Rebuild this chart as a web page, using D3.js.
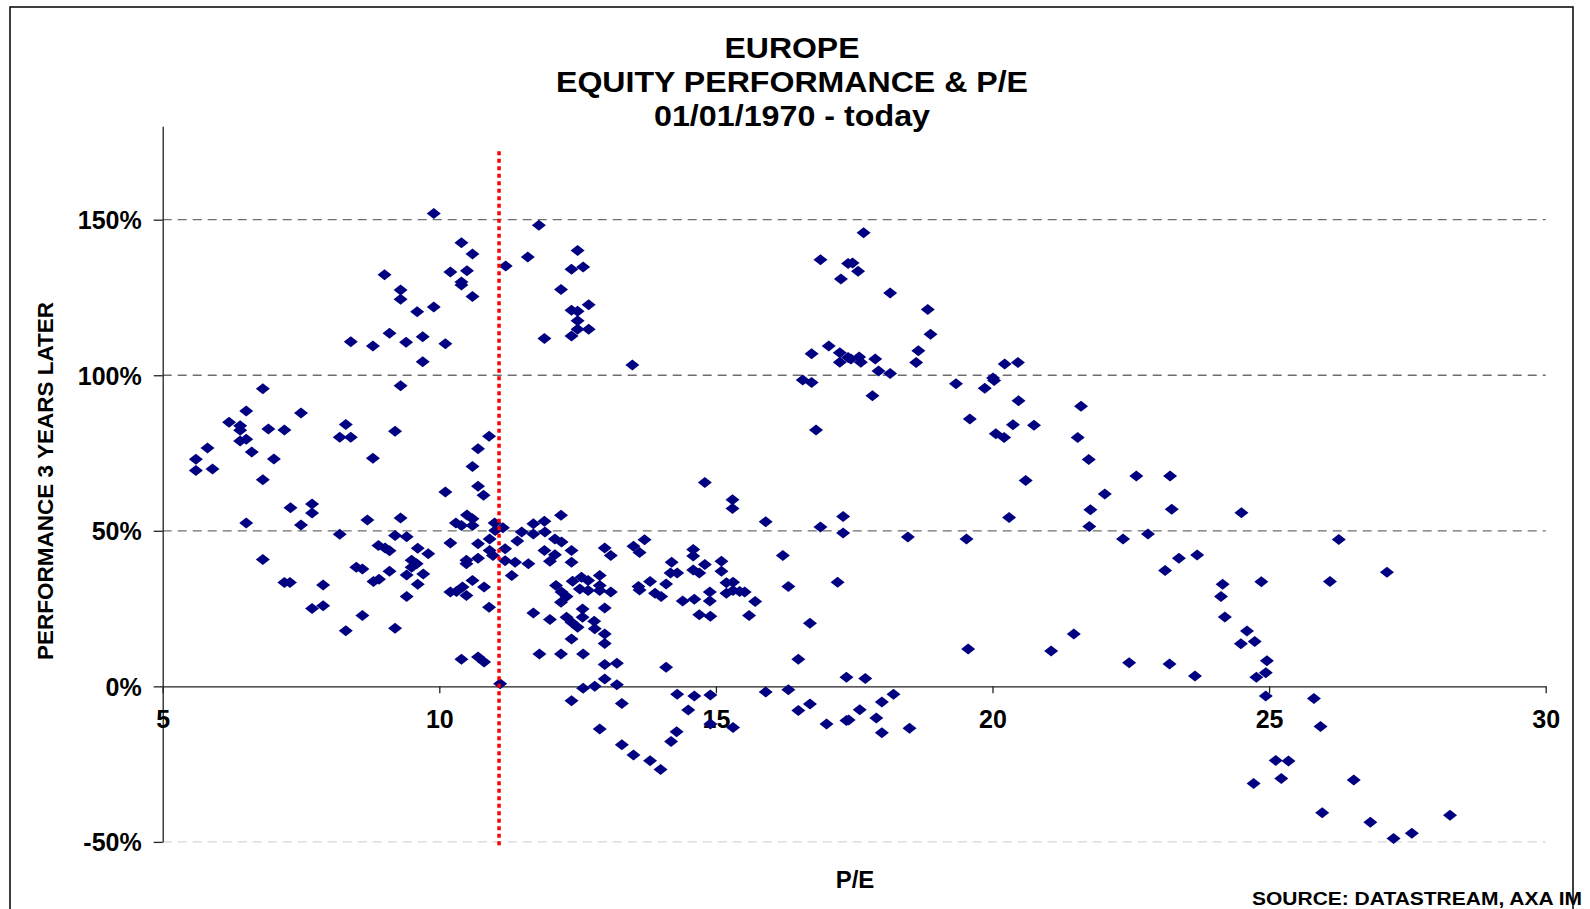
<!DOCTYPE html>
<html>
<head>
<meta charset="utf-8">
<script src="https://cdn.jsdelivr.net/npm/d3@7"></script>
<style>
    html, body { margin: 0; padding: 0; background: #fff; }
    svg { display: block; font-family: Arial, "Liberation Sans", sans-serif; }
    .tick-label { font-size: 25px; font-weight: bold; fill: #000; }
</style>
</head>
<body>
<svg id="chart" width="1590" height="909"></svg>
<script>
'use strict';

// P/E at the start of each month
var peValues = [
    9.90, 10.40, 10.60, 11.20, 10.20, 10.50, 10.40, 10.40, 10.60, 9.01, 9.30, 9.30, 9.60, 9.90, 9.10, 9.40,
    9.70, 10.11, 8.40, 8.80, 9.70, 9.30, 6.81, 6.51, 7.50, 6.20, 6.40, 6.40, 6.91, 7.20, 8.31, 8.20,
    8.40, 9.20, 6.40, 6.51, 6.61, 5.81, 5.60, 5.60, 5.90, 7.01, 8.80, 6.81, 10.90, 10.70, 10.60, 10.70,
    10.80, 10.11, 7.31, 7.70, 7.70, 6.51, 7.50, 8.70, 9.30, 10.50, 10.60, 10.30, 10.40, 10.60, 11.00,
    11.80, 11.60, 12.50, 12.39, 12.60, 12.20, 12.39, 12.50, 12.50, 12.50, 12.70, 12.70, 12.39, 11.90, 13.49, 16.89,
    17.39, 17.26, 16.73, 17.04, 17.24, 17.24, 17.39, 16.57, 16.73, 16.81, 14.80, 15.30, 15.30, 15.90, 16.89, 17.30,
    12.20, 11.90, 11.70,
    17.67, 17.47, 17.57, 18.15, 18.83, 18.88, 17.44, 17.59, 17.62, 17.88, 17.94, 18.15, 17.83, 18.66, 18.62, 19.34,
    19.86, 20.01, 20.03, 20.22, 20.46, 20.47, 19.59, 20.06, 20.21, 20.37, 20.75, 21.60, 21.54, 21.74, 20.60, 22.03,
    22.60, 23.21, 20.30, 21.77, 21.75, 23.24, 24.50,
    8.20, 9.20, 9.41, 8.90, 9.02, 9.10, 9.61, 9.80, 6.81, 8.50, 8.61, 9.10, 9.50, 9.59, 9.50, 9.41,
    9.71, 8.81, 8.91, 9.61, 7.20, 7.30, 7.90, 7.70, 7.90, 8.61, 8.31, 9.20, 9.41, 10.20, 10.70, 10.49,
    10.49, 10.70, 10.91, 10.97, 10.91, 11.01, 10.60, 10.81, 10.20, 10.31, 10.42, 10.49, 10.90, 10.40, 10.70, 10.81,
    11.10,
    11.15, 11.49, 11.70, 11.91, 11.41, 12.09, 12.21, 11.90, 12.09, 12.00, 12.39, 12.39, 11.19, 11.19, 11.37, 11.61,
    11.31, 12.99, 13.10, 13.51, 13.62, 13.71, 14.20, 14.59, 14.59, 14.80, 15.10, 15.10, 14.59, 14.70, 14.18, 14.30,
    16.21, 17.30, 17.20, 16.31, 16.70, 16.49, 17.36, 12.57, 12.69, 12.90, 12.41, 12.11, 12.21, 12.30, 12.54, 12.69,
    12.90, 12.90, 13.10, 12.20, 12.59, 12.59, 12.99, 11.70, 12.00, 12.30, 12.39, 12.50, 12.80, 12.81, 12.99, 12.99,
    12.39, 11.81, 12.20, 12.60, 12.99, 13.21, 12.99, 12.60, 12.81, 13.21, 12.39, 13.30, 13.60, 13.62, 13.81, 14.10,
    13.90, 14.01, 14.40, 14.61, 14.89, 14.89, 15.19, 15.31, 15.19, 15.31, 15.43, 15.52, 15.71, 14.70, 14.90, 15.60,
    14.10, 14.30, 14.61, 14.90, 14.50, 12.90, 14.29, 14.19, 13.30, 13.51, 13.81, 14.00, 14.90, 15.31, 15.90, 16.31,
    16.49, 16.70, 17.00, 17.36,
    18.47, 19.53, 22.36, 22.81, 23.12, 23.37, 19.56, 21.06, 21.47, 22.47, 23.20, 17.70, 18.21, 18.00, 17.60, 17.40,
    17.90, 18.00, 18.50,
    26.26, 23.70, 27.13, 24.16, 24.86, 26.10, 24.13, 24.20, 24.60, 24.49, 24.74, 24.96, 24.94, 24.77, 23.66, 24.94,
    25.81, 25.93, 25.12, 25.35, 25.22, 24.72, 26.53, 25.96, 26.83, 27.25, 27.58, 28.27
];

// performance over the following 3 years, in %
var perfValues = [
    152.0, 142.6, 139.0, 135.1, 133.2, 133.6, 130.0, 129.0, 125.3, 132.3, 127.4, 124.4, 120.4, 121.9, 113.5, 110.6,
    112.4, 110.1, 110.8, 109.4, 104.3, 96.6, 95.7, 88.5, 87.9, 84.9, 83.8, 82.3, 82.7, 82.4, 84.2, 80.1,
    80.1, 82.0, 78.9, 79.4, 75.3, 76.6, 73.0, 69.4, 69.9, 73.1, 73.3, 66.4, 80.4, 76.4, 70.7, 64.3,
    61.4, 62.5, 57.4, 58.6, 55.7, 52.5, 51.9, 53.5, 54.1, 55.1, 53.9, 52.5, 51.7, 51.7, 52.5,
    148.2, 138.0, 140.1, 134.1, 134.8, 127.6, 120.9, 120.6, 117.5, 114.8, 122.7, 114.8, 112.6, 111.8, 103.3, 137.1,
    135.9, 130.9, 106.9, 109.4, 107.2, 104.2, 105.7, 98.5, 97.7, 82.4, 65.5, 60.0, 57.2, 52.9, 51.2, 54.6,
    55.0, 53.1, 52.3,
    145.8, 136.1, 133.4, 126.4, 121.1, 113.2, 105.2, 105.9, 104.2, 105.2, 101.4, 100.6, 93.4, 107.9, 104.1, 97.3,
    95.8, 99.1, 98.3, 103.6, 104.1, 91.8, 85.9, 81.2, 80.0, 84.1, 83.9, 90.0, 80.0, 72.9, 66.2, 61.8,
    67.6, 67.6, 54.3, 56.8, 51.4, 56.9, 55.8,
    48.9, 48.5, 48.1, 45.3, 44.5, 43.6, 44.4, 42.6, 40.8, 38.3, 37.7, 37.0, 40.5, 39.4, 38.3, 35.8,
    36.1, 33.7, 34.4, 32.8, 33.4, 33.4, 32.6, 25.0, 25.9, 22.8, 17.9, 18.7, 28.9, 46.1, 45.8, 40.5,
    39.4, 41.2, 43.7, 42.1, 47.4, 50.1, 34.0, 31.9, 30.3, 30.5, 31.9, 29.2, 25.4, 8.7, 9.4, 7.8,
    0.8,
    51.0, 49.6, 49.0, 49.6, 46.7, 47.4, 46.4, 43.7, 42.3, 40.2, 43.7, 39.9, 44.2, 40.4, 39.9, 39.4,
    35.6, 44.5, 42.1, 45.0, 43.0, 47.1, 39.9, 44.0, 41.9, 39.2, 40.2, 37.0, 37.4, 36.4, 36.4, 36.4,
    42.1, 49.3, 33.5, 32.1, 20.3, 8.7, 2.9, 35.1, 34.0, 35.6, 33.8, 32.4, 30.3, 28.9, 31.3, 30.8,
    32.4, 30.8, 30.3, 27.0, 24.9, 22.2, 25.2, 23.6, 21.5, 22.2, 20.6, 19.0, 20.9, 18.5, 16.8, 13.8,
    15.2, 10.4, 10.4, 10.4, 7.0, 7.4, 2.4, -0.6, 0.0, 0.5, -4.6, -5.5, 32.1, 31.0, 33.7, 32.9,
    29.9, 28.9, 27.4, 28.0, 30.3, 27.4, 33.3, 33.5, 29.9, 30.8, 30.5, 30.3, 27.3, 23.0, 22.5, 22.8,
    6.1, -2.5, -3.1, -2.8, -7.6, -13.7, -14.6, -17.7, -18.8, -22.1, -23.9, -26.7, -12.1, -13.2, -1.8, -1.1,
    -7.8, -5.7, -12.1, -11.0,
    48.0, 47.4, 47.4, 49.0, 37.2, 41.2, 12.0, 11.4, 16.8, 7.6, 7.2, 2.5, -2.5, -5.0, -7.5, -10.8,
    -10.2, -14.9, -13.5,
    47.2, 42.2, 36.7, 32.8, 33.6, 33.7, 28.9, 22.3, 17.8, 13.7, 14.4, 8.2, 4.4, 2.9, 3.3, -3.1,
    -3.9, -12.9, -23.8, -24.0, -29.6, -31.2, -30.1, -40.6, -43.7, -48.9, -47.2, -41.4
];

var xTicks = [5, 10, 15, 20, 25, 30];
var yTicks = [-50, 0, 50, 100, 150];
var gridValues = [50, 100, 150];
var xDomain = [5, 30];
var yDomain = [-50, 180];

// current P/E marker (red dotted line) and its vertical extent
var currentPE = [11.08];
var currentSpan = [-52, 172];

var titleLines = ['EUROPE', 'EQUITY PERFORMANCE & P/E', '01/01/1970 - today'];

var svg = d3.select('#chart');

var points = peValues.map(function(pe, i) {
    return { pe: pe, perf: perfValues[i] };
});

var x = d3.scaleLinear().domain(xDomain).range([162.7, 1545.7]);

// -50% and 150% gridlines give the pixel calibration, axis runs on to 180%
var yRef = d3.scaleLinear().domain([-50, 150]).range([841.9, 219.7]);
var y = d3.scaleLinear().domain(yDomain).range([yRef(yDomain[0]), yRef(yDomain[1])]);

// outer frame
svg.append('rect')
    .attr('x', 10)
    .attr('y', 7)
    .attr('width', 1563)
    .attr('height', 1000)
    .attr('fill', 'none')
    .attr('stroke', '#000')
    .attr('stroke-width', 1.5);

// titles
var titleWidths = [135, 472, 276];
var titleBaselines = [58, 92, 125.5];
svg.append('g')
    .selectAll('text')
    .data(titleLines)
    .enter()
    .append('text')
    .attr('x', 792)
    .attr('y', function(d, i) { return titleBaselines[i]; })
    .attr('text-anchor', 'middle')
    .attr('textLength', function(d, i) { return titleWidths[i]; })
    .attr('lengthAdjust', 'spacingAndGlyphs')
    .attr('font-size', 29)
    .attr('font-weight', 'bold')
    .text(function(d) { return d; });

// gridlines
svg.append('g')
    .selectAll('line')
    .data(gridValues)
    .enter()
    .append('line')
    .attr('x1', x(xDomain[0]))
    .attr('x2', x(xDomain[1]))
    .attr('y1', function(d) { return y(d); })
    .attr('y2', function(d) { return y(d); })
    .attr('stroke', '#6e6e6e')
    .attr('stroke-width', 1.3)
    .attr('stroke-dasharray', '9,6');

svg.append('line')
    .attr('x1', x(xDomain[0]))
    .attr('x2', x(xDomain[1]))
    .attr('y1', y(-50))
    .attr('y2', y(-50))
    .attr('stroke', '#d6d6d6')
    .attr('stroke-width', 1.2)
    .attr('stroke-dasharray', '9,6');

// y axis
var yAxis = svg.append('g')
    .attr('transform', 'translate(' + x(xDomain[0]) + ',0)')
    .call(d3.axisLeft(y)
        .tickValues(yTicks)
        .tickSize(9)
        .tickSizeOuter(0)
        .tickPadding(12)
        .tickFormat(function(d) { return d + '%'; }));

yAxis.selectAll('path, line').attr('stroke', '#222').attr('stroke-width', 1.3);
yAxis.selectAll('text')
    .attr('class', 'tick-label')
    .attr('font-family', null)
    .attr('font-size', null)
    .attr('dy', '0.35em');

// x axis sits on 0%
var xAxis = svg.append('g')
    .attr('transform', 'translate(0,' + y(0) + ')')
    .call(d3.axisBottom(x)
        .tickValues(xTicks)
        .tickSize(7)
        .tickSizeOuter(0)
        .tickPadding(17));

xAxis.selectAll('path, line').attr('stroke', '#222').attr('stroke-width', 1.3);
xAxis.selectAll('text')
    .attr('class', 'tick-label')
    .attr('font-family', null)
    .attr('font-size', null);

// points
var diamond = 'M0,-5.5L7,0L0,5.5L-7,0Z';
svg.append('g')
    .selectAll('path')
    .data(points)
    .enter()
    .append('path')
    .attr('d', diamond)
    .attr('transform', function(d) { return 'translate(' + x(d.pe) + ',' + y(d.perf) + ')'; })
    .attr('fill', '#000080');

// current P/E
svg.append('g')
    .selectAll('line')
    .data(currentPE)
    .enter()
    .append('line')
    .attr('x1', function(d) { return x(d); })
    .attr('x2', function(d) { return x(d); })
    .attr('y1', y(currentSpan[1]))
    .attr('y2', y(currentSpan[0]))
    .attr('stroke', '#ff0000')
    .attr('stroke-width', 3.5)
    .attr('stroke-dasharray', '4,3.5');

// axis titles
svg.append('text')
    .attr('transform', 'translate(53,481) rotate(-90)')
    .attr('text-anchor', 'middle')
    .attr('font-size', 22.5)
    .attr('font-weight', 'bold')
    .text('PERFORMANCE 3 YEARS LATER');

svg.append('text')
    .attr('x', 855)
    .attr('y', 888)
    .attr('text-anchor', 'middle')
    .attr('font-size', 24)
    .attr('font-weight', 'bold')
    .text('P/E');

svg.append('text')
    .attr('x', 1582)
    .attr('y', 905)
    .attr('text-anchor', 'end')
    .attr('textLength', 330)
    .attr('lengthAdjust', 'spacingAndGlyphs')
    .attr('font-size', 18)
    .attr('font-weight', 'bold')
    .text('SOURCE: DATASTREAM, AXA IM');
</script>
</body>
</html>
